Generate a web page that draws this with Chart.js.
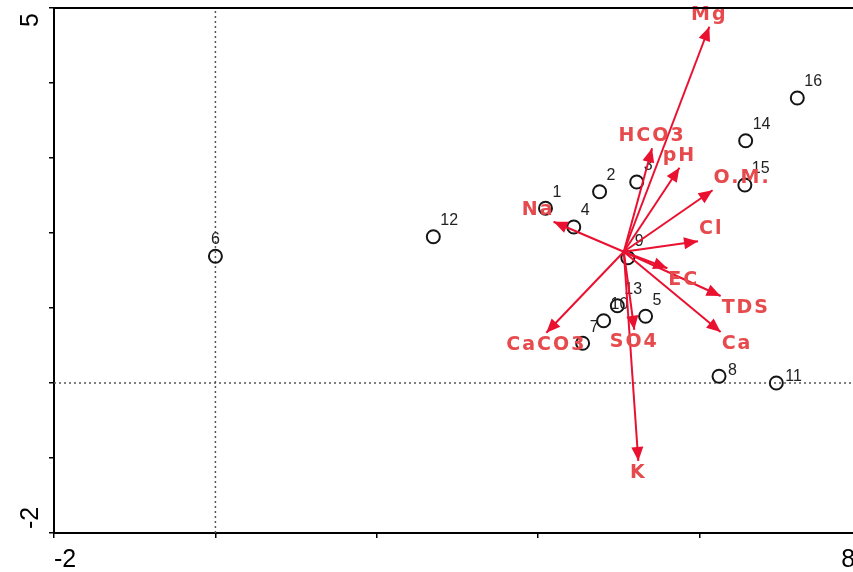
<!DOCTYPE html>
<html>
<head>
<meta charset="utf-8">
<script src="https://cdn.jsdelivr.net/npm/chart.js@4/dist/chart.umd.min.js"></script>
<style>
  html, body { margin: 0; padding: 0; background: #fff; }
  #grafico-biplot { display: block; }
</style>
</head>
<body>
<canvas id="grafico-biplot" width="853" height="572"></canvas>
<script>
// Estações (pontos)
const estacoes = ['1', '2', '3', '4', '5', '6', '7', '8', '9', '10', '11', '12', '13', '14', '15', '16'];
const estacoesX = [4.09, 4.76, 5.22, 4.44, 5.33, 0.00, 4.55, 6.24, 5.11, 4.81, 6.95, 2.70, 4.98, 6.57, 6.56, 7.21];
const estacoesY = [2.33, 2.55, 2.68, 2.08, 0.89, 1.69, 0.53, 0.09, 1.67, 0.83, 0.00, 1.95, 1.03, 3.23, 2.64, 3.80];
// posição do rótulo de cada estação: ne = acima à direita, n = acima, e = à direita
const posicaoRotulo = ['ne', 'ne', 'ne', 'ne', 'ne', 'n', 'ne', 'e', 'ne', 'ne', 'e', 'ne', 'ne', 'ne', 'ne', 'ne'];

// Variáveis (setas)
const variaveis = ['Mg', 'HCO3', 'pH', 'O.M.', 'Cl', 'Na', 'EC', 'TDS', 'Ca', 'SO4', 'CaCO3', 'K'];
const variaveisX = [6.12, 5.41, 5.75, 6.16, 5.98, 4.19, 5.60, 6.26, 6.26, 5.19, 4.10, 5.24];
const variaveisY = [4.75, 3.13, 2.87, 2.57, 1.89, 2.15, 1.53, 1.16, 0.68, 0.71, 0.67, -1.04];
const origemX = 5.06;
const origemY = 1.75;

// Eixos
const limitesX = [-2, 7.9];
const limitesY = [-2, 5];
const rotulosX = ['-2', '8'];
const rotulosY = ['5', '-2'];

const corSeta = '#ea1030';
const corTexto = '#e64a4c';

const pluginRotulos = {
  id: 'rotulos',
  afterDatasetDraw(chart, args) {
    if (args.index !== 2) return;
    const ctx = chart.ctx;
    const x = chart.scales.x, y = chart.scales.y;
    ctx.save();
    ctx.font = '16px "Liberation Sans", Arial, sans-serif';
    ctx.fillStyle = '#222';
    ctx.textBaseline = 'middle';
    estacoes.forEach((nome, i) => {
      const px = x.getPixelForValue(estacoesX[i]);
      const py = y.getPixelForValue(estacoesY[i]);
      if (posicaoRotulo[i] === 'n') {
        ctx.textAlign = 'center';
        ctx.fillText(nome, px, py - 17);
      } else if (posicaoRotulo[i] === 'e') {
        ctx.textAlign = 'left';
        ctx.fillText(nome, px + 9, py - 6);
      } else {
        ctx.textAlign = 'left';
        ctx.fillText(nome, px + 7, py - 16);
      }
    });
    ctx.restore();
  },
  afterDatasetsDraw(chart) {
    const ctx = chart.ctx;
    const x = chart.scales.x, y = chart.scales.y;
    const ox = x.getPixelForValue(origemX);
    const oy = y.getPixelForValue(origemY);
    ctx.save();
    variaveis.forEach((nome, i) => {
      const px = x.getPixelForValue(variaveisX[i]);
      const py = y.getPixelForValue(variaveisY[i]);
      const dx = px - ox, dy = py - oy;
      const ang = Math.atan2(dy, dx);
      // ponta da seta
      const L = 14, W = 6;
      const bx = px - L * Math.cos(ang), by = py - L * Math.sin(ang);
      ctx.fillStyle = corSeta;
      ctx.beginPath();
      ctx.moveTo(px, py);
      ctx.lineTo(bx - W * Math.sin(ang), by + W * Math.cos(ang));
      ctx.lineTo(bx + W * Math.sin(ang), by - W * Math.cos(ang));
      ctx.closePath();
      ctx.fill();
      // rótulo
      ctx.font = 'bold 19px "DejaVu Sans", Verdana, sans-serif';
      ctx.letterSpacing = '2px';
      ctx.fillStyle = corTexto;
      ctx.textBaseline = 'middle';
      let tx = px;
      if (Math.abs(dx) < 1.05 * Math.abs(dy)) {
        ctx.textAlign = 'center';
      } else if (dx > 0) {
        ctx.textAlign = 'left';
        tx = px + 1;
      } else {
        ctx.textAlign = 'right';
        tx = px + 1;
      }
      ctx.fillText(nome, tx, py + 12 * Math.sign(dy));
    });
    ctx.restore();
  },
  afterDraw(chart) {
    const ctx = chart.ctx;
    const area = chart.chartArea;
    const x = chart.scales.x, y = chart.scales.y;
    ctx.save();
    // linha de cima
    ctx.strokeStyle = '#000';
    ctx.lineWidth = 2;
    ctx.beginPath();
    ctx.moveTo(area.left, area.top);
    ctx.lineTo(chart.width, area.top);
    ctx.stroke();
    // rótulos dos eixos
    ctx.font = '25px "Liberation Sans", Arial, sans-serif';
    ctx.fillStyle = '#000';
    ctx.textBaseline = 'alphabetic';
    ctx.textAlign = 'left';
    ctx.fillText(rotulosX[0], x.getPixelForValue(Number(rotulosX[0])), 567);
    ctx.textAlign = 'right';
    ctx.fillText(rotulosX[1], x.getPixelForValue(Number(rotulosX[1])) - 6, 567);

    ctx.translate(38, y.getPixelForValue(Number(rotulosY[0])) + 5);
    ctx.rotate(-Math.PI / 2);
    ctx.textAlign = 'right';
    ctx.fillText(rotulosY[0], 0, 0);
    ctx.restore();

    ctx.save();
    ctx.font = '25px "Liberation Sans", Arial, sans-serif';
    ctx.fillStyle = '#000';
    ctx.translate(38, y.getPixelForValue(Number(rotulosY[1])) - 4);
    ctx.rotate(-Math.PI / 2);
    ctx.textAlign = 'left';
    ctx.fillText(rotulosY[1], 0, 0);
    ctx.restore();
  }
};

function iniciar() {
  const datasets = [
    // linhas pontilhadas em x = 0 e y = 0
    {
      data: [{ x: 0, y: limitesY[0] }, { x: 0, y: limitesY[1] }],
      showLine: true, borderColor: '#555', borderWidth: 1.5, borderDash: [2, 3],
      pointRadius: 0, order: 3
    },
    {
      data: [{ x: limitesX[0], y: 0 }, { x: limitesX[1], y: 0 }],
      showLine: true, borderColor: '#555', borderWidth: 1.5, borderDash: [2, 3],
      pointRadius: 0, order: 3
    },
    // estações
    {
      data: estacoesX.map((v, i) => ({ x: v, y: estacoesY[i] })),
      pointRadius: 6.5, pointBorderWidth: 2, borderColor: '#151515',
      backgroundColor: 'rgba(0,0,0,0)', pointHoverRadius: 6.5, order: 2
    }
  ];
  // setas das variáveis
  variaveis.forEach((nome, i) => {
    datasets.push({
      data: [{ x: origemX, y: origemY }, { x: variaveisX[i], y: variaveisY[i] }],
      showLine: true, borderColor: corSeta, borderWidth: 2, pointRadius: 0, order: 1
    });
  });

  new Chart(document.getElementById('grafico-biplot').getContext('2d'), {
    type: 'scatter',
    data: { datasets: datasets },
    options: {
      responsive: false,
      animation: false,
      devicePixelRatio: 1,
      layout: { autoPadding: false, padding: { top: 8, right: 0, left: 0, bottom: 0 } },
      plugins: { legend: { display: false }, tooltip: { enabled: false } },
      scales: {
        x: {
          type: 'linear', min: limitesX[0], max: limitesX[1],
          ticks: { display: false, stepSize: 2, includeBounds: false },
          grid: { drawOnChartArea: false, color: '#000', lineWidth: 1.5, tickLength: 5 },
          border: { display: true, color: '#000', width: 2 },
          afterFit: s => { s.height = 39; }
        },
        y: {
          type: 'linear', min: limitesY[0], max: limitesY[1],
          ticks: { display: false, stepSize: 1 },
          grid: { drawOnChartArea: false, color: '#000', lineWidth: 1.5, tickLength: 5 },
          border: { display: true, color: '#000', width: 2 },
          afterFit: s => { s.width = 54; }
        }
      }
    },
    plugins: [pluginRotulos]
  });
}

iniciar();
</script>
</body>
</html>
